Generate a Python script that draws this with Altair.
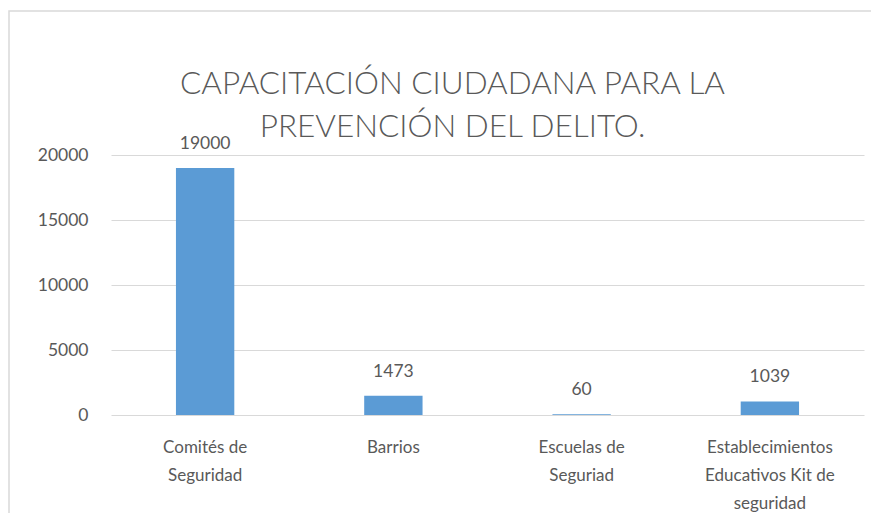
import altair as alt
import pandas as pd

categories = ["Comités de|Seguridad", "Barrios", "Escuelas de|Seguriad", "Establecimientos|Educativos Kit de|seguridad"]
values = [19000, 1473, 60, 1039]
title_lines = ["CAPACITACIÓN CIUDADANA PARA LA", "PREVENCIÓN DEL DELITO."]
y_ticks = [0, 5000, 10000, 15000, 20000]

df = pd.DataFrame({"cat": categories, "val": values})

FONT = "Lato"
GRAY = "#595959"

x = alt.X("cat:N", sort=categories, title=None,
          scale=alt.Scale(paddingInner=0.69, paddingOuter=0.345),
          axis=alt.Axis(labelExpr="split(datum.label, '|')", labelAngle=0,
                        labelFontSize=17, labelColor=GRAY, labelFont=FONT,
                        labelLineHeight=28, labelPadding=24, ticks=False, domain=False,
                        labelBaseline="top"))
y = alt.Y("val:Q", title=None,
          scale=alt.Scale(domain=[0, 20000], nice=False),
          axis=alt.Axis(values=y_ticks, format="d", labelFontSize=17.5, labelColor=GRAY, labelFont=FONT,
                        labelPadding=23, ticks=False, domain=False,
                        gridColor="#d9d9d9", gridWidth=1.2))

bars = alt.Chart(df).mark_bar(color="#5B9BD5").encode(x=x, y=y)
labels = alt.Chart(df).mark_text(baseline="bottom", dy=-15, fontSize=17.5, color=GRAY, font=FONT).encode(
    x=alt.X("cat:N", sort=categories), y="val:Q", text="val:Q")

border = alt.Chart(alt.Data(values=[{}])).mark_rect(fill=None, stroke="#d9d9d9", strokeWidth=1.5).encode(
    x=alt.value(-102), x2=alt.value(900), y=alt.value(-144), y2=alt.value(700))

chart = alt.layer(border, bars, labels).properties(
    width=753, height=260,
    title=alt.TitleParams(title_lines, anchor="middle", dx=-35, offset=-158, baseline="alphabetic",
                          fontSize=31.5, font=FONT, fontWeight=300, color=GRAY, lineHeight=43),
    autosize=alt.AutoSizeParams(type="none"),
    padding={"left": 103, "top": 147, "right": 7, "bottom": 98},
).configure_view(stroke=None)

chart.save("out.html", embed_options={"renderer": "svg", "actions": False})
